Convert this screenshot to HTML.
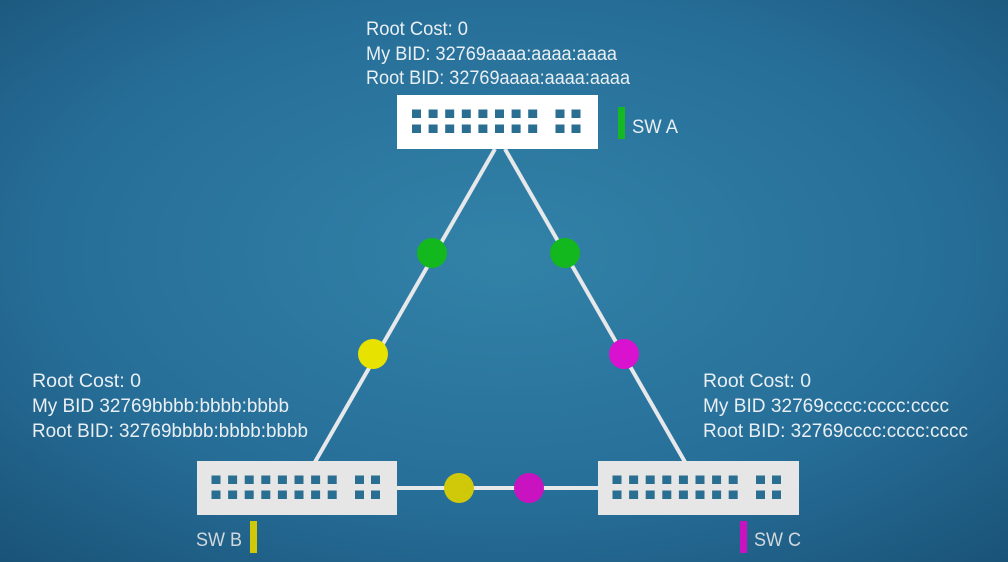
<!DOCTYPE html>
<html><head><meta charset="utf-8"><style>
html,body{margin:0;padding:0;width:1008px;height:562px;overflow:hidden;background:#25698f}
svg{display:block}
text{font-family:"Liberation Sans",sans-serif;font-size:19px;fill:#e9eff3}
</style></head><body>
<svg width="1008" height="562" viewBox="0 0 1008 562" xmlns="http://www.w3.org/2000/svg">
<defs>
<radialGradient id="bg" cx="0.5" cy="0.45" r="0.75">
<stop offset="0" stop-color="#3282a8"/>
<stop offset="0.6" stop-color="#266e98"/>
<stop offset="1" stop-color="#1a5277"/>
</radialGradient>
<g id="ports" fill="#2a6e92">
<rect x="0" y="0" width="9" height="8.5"/><rect x="16.6" y="0" width="9" height="8.5"/><rect x="33.2" y="0" width="9" height="8.5"/><rect x="49.8" y="0" width="9" height="8.5"/><rect x="66.4" y="0" width="9" height="8.5"/><rect x="83" y="0" width="9" height="8.5"/><rect x="99.6" y="0" width="9" height="8.5"/><rect x="116.2" y="0" width="9" height="8.5"/>
<rect x="0" y="15" width="9" height="8.5"/><rect x="16.6" y="15" width="9" height="8.5"/><rect x="33.2" y="15" width="9" height="8.5"/><rect x="49.8" y="15" width="9" height="8.5"/><rect x="66.4" y="15" width="9" height="8.5"/><rect x="83" y="15" width="9" height="8.5"/><rect x="99.6" y="15" width="9" height="8.5"/><rect x="116.2" y="15" width="9" height="8.5"/>
<rect x="143.5" y="0" width="9" height="8.5"/><rect x="159.5" y="0" width="9" height="8.5"/>
<rect x="143.5" y="15" width="9" height="8.5"/><rect x="159.5" y="15" width="9" height="8.5"/>
</g>
</defs>
<rect width="1008" height="562" fill="url(#bg)"/>
<g stroke="#e6e8ea" stroke-width="4">
<line x1="495" y1="149" x2="315" y2="462"/>
<line x1="505" y1="149" x2="685" y2="462"/>
<line x1="397" y1="488" x2="598" y2="488"/>
</g>
<rect x="397" y="95" width="201" height="54" fill="#ffffff"/>
<use href="#ports" x="412" y="109.5"/>
<rect x="197" y="461" width="200" height="54" fill="#e6e6e6"/>
<use href="#ports" x="211.5" y="475.5"/>
<rect x="598" y="461" width="201" height="54" fill="#e6e6e6"/>
<use href="#ports" x="612.5" y="475.5"/>
<circle cx="432" cy="253" r="15" fill="#12b81e"/>
<circle cx="565" cy="253" r="15" fill="#12b81e"/>
<circle cx="373" cy="354" r="15" fill="#e8e200"/>
<circle cx="624" cy="354" r="15" fill="#d812cf"/>
<circle cx="459" cy="488" r="15" fill="#cfc90a"/>
<circle cx="529" cy="488" r="15" fill="#c912c0"/>
<rect x="618" y="107" width="7" height="32" fill="#14b820"/>
<rect x="250" y="521" width="7" height="32" fill="#cfc90a"/>
<rect x="740" y="521" width="7" height="32" fill="#c912c0"/>
<text x="632" y="133" textLength="46" lengthAdjust="spacingAndGlyphs">SW A</text>
<text x="196" y="546" textLength="46" lengthAdjust="spacingAndGlyphs" style="fill:#d2d8dc">SW B</text>
<text x="754" y="546" textLength="47" lengthAdjust="spacingAndGlyphs" style="fill:#d2d8dc">SW C</text>
<text x="366" y="35" textLength="102" lengthAdjust="spacingAndGlyphs">Root Cost: 0</text>
<text x="366" y="60" textLength="251" lengthAdjust="spacingAndGlyphs">My BID: 32769aaaa:aaaa:aaaa</text>
<text x="366" y="84" textLength="264" lengthAdjust="spacingAndGlyphs">Root BID: 32769aaaa:aaaa:aaaa</text>
<text x="32" y="387" textLength="109" lengthAdjust="spacingAndGlyphs">Root Cost:  0</text>
<text x="32" y="412" textLength="257" lengthAdjust="spacingAndGlyphs">My BID 32769bbbb:bbbb:bbbb</text>
<text x="32" y="437" textLength="276" lengthAdjust="spacingAndGlyphs">Root BID: 32769bbbb:bbbb:bbbb</text>
<text x="703" y="387" textLength="108" lengthAdjust="spacingAndGlyphs">Root Cost:  0</text>
<text x="703" y="412" textLength="246" lengthAdjust="spacingAndGlyphs">My BID 32769cccc:cccc:cccc</text>
<text x="703" y="437" textLength="265" lengthAdjust="spacingAndGlyphs">Root BID: 32769cccc:cccc:cccc</text>
</svg>
</body></html>
